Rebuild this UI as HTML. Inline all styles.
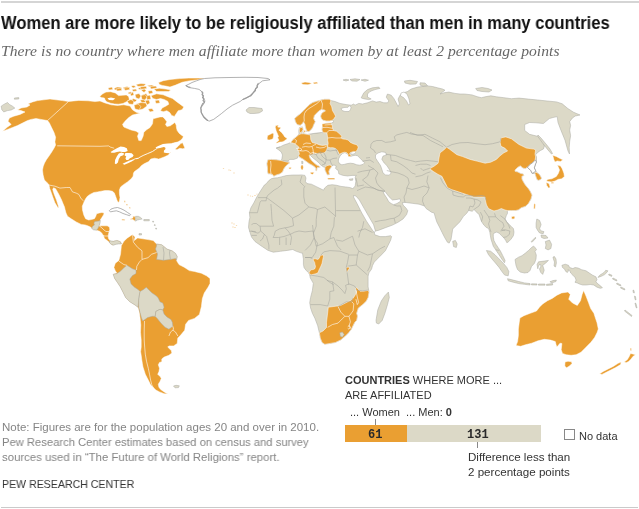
<!DOCTYPE html>
<html><head><meta charset="utf-8"><style>
html,body{margin:0;padding:0;background:#fff;}
body{width:639px;height:509px;position:relative;overflow:hidden;font-family:"Liberation Sans",sans-serif;}
.t{position:absolute;white-space:nowrap;line-height:1;will-change:transform;}
#topline{position:absolute;left:1px;top:1px;width:638px;height:2px;background:#d5d5d5;}
#botline{position:absolute;left:1px;top:507px;width:637px;height:1px;background:#cacaca;}
#title{left:1px;top:15px;font-size:17.5px;font-weight:bold;color:#111;letter-spacing:0px;transform:scaleX(0.946);transform-origin:0 0;}
#sub{left:0.5px;top:43px;font-family:"Liberation Serif",serif;font-style:italic;font-size:15.6px;color:#666;letter-spacing:0.05px;}
#map{position:absolute;left:0;top:0;}
.b{fill:#dcd9c7;stroke:#a9a9a1;stroke-width:0.5;stroke-linejoin:round;}
.o{fill:#ea9f32;stroke:#fff;stroke-width:0.5;stroke-linejoin:round;}
.on{fill:#ea9f32;stroke:none;}
.bn{fill:#dcd9c7;stroke:none;}
.n{fill:#fff;stroke:#929292;stroke-width:0.7;stroke-linejoin:round;}
.w{fill:#fff;stroke:none;}
.bl{fill:none;stroke:#fff;stroke-width:0.6;stroke-linejoin:round;}
.ow{fill:none;stroke:#fff;stroke-width:0.9;stroke-linejoin:round;}
.bw{fill:none;stroke:#fff;stroke-width:1.3;stroke-linejoin:round;}
.gl{fill:none;stroke:#a6a69e;stroke-width:0.55;stroke-linejoin:round;}
.gt{fill:none;stroke:#9a9a9a;stroke-width:1.1;stroke-linejoin:round;stroke-linecap:round;}
.od{fill:#ea9f32;opacity:0.45;stroke:none;}
.ws{fill:#fff;stroke:#a9a9a1;stroke-width:0.5;stroke-linejoin:round;}
.note{left:2px;font-size:11.5px;color:#858585;}
#pew{left:2px;top:479px;font-size:11.5px;color:#333;transform:scaleX(0.92);transform-origin:0 0;}
.lg{font-size:11px;color:#333;}
#bar{position:absolute;left:345px;top:425px;width:196px;height:17px;background:#dcd9c7;}
#bar .wv{position:absolute;left:0;top:0;width:62px;height:17px;background:#ea9f32;}
.bnum{position:absolute;top:3px;will-change:transform;font-family:'Liberation Mono',monospace;font-size:12px;font-weight:bold;color:#2a2a2a;}
.tick{position:absolute;width:1px;background:#888;}
#nd{position:absolute;left:564px;top:429px;width:9px;height:9px;border:1px solid #888;background:#fff;}
</style></head><body>
<div id="topline"></div>
<div class="t" id="title">Women are more likely to be religiously affiliated than men in many countries</div>
<div class="t" id="sub">There is no country where men affiliate more than women by at least 2 percentage points</div>
<svg id="map" width="639" height="509" viewBox="0 0 639 509">
<polygon class="o" points="2.5,131.2 7.5,127 11.2,124.4 8,121.2 9.4,118 13.8,116.2 20,114.4 25,112 21,110.6 17.5,110 21,108 27,107 30,105 28,103.8 32.5,101.9 37.5,100.6 43.8,99.8 50,99 56,99.8 62.5,100.6 68.5,101.5 78.8,100.4 88.2,100.8 95,101.6 100,101 105,102.9 111.2,104.8 117.5,105.4 123.8,104.8 130,106 132.5,109.8 136.2,112.2 140,113.2 137.5,113.8 132.5,115 128.8,117.5 125,121.2 122.5,124.4 123.8,126.9 126.2,128.1 131.2,130 136.2,131.2 138.8,133.1 137.5,136.2 138.8,140.6 141.2,140.6 143.1,136.2 143.8,132.5 146.2,130 150,127.5 152.5,123.8 153.1,118.8 156,118 160,116.9 162.8,116.9 164.8,118.9 166.9,121.7 165.5,124.4 166.9,126.5 170.3,125.8 173.1,123.8 174.8,122.4 176.2,125.1 176.5,127.9 177.2,130.6 179.3,133.4 182,135.4 183.4,136.8 182,138.9 180.6,140.3 178.6,141.6 177,142.2 172.3,143.2 172,148 170.5,152.5 169.4,153.5 168.5,154.9 164.7,156.8 161,158.2 158.6,159.1 156.5,158.5 154.4,158.2 150.7,159.1 148.8,161.5 144.1,163.8 141.3,165.7 139.4,168 136.6,170 134.5,171.5 133.5,173 133.1,176.2 131.2,178.8 127.5,181.9 123.8,184.4 120.6,186.9 119.4,190 119.4,193.8 120,197.5 119.4,201.2 118.1,202.5 116.9,200 115.6,196.2 114.4,193.1 112.5,191.2 108.8,190.6 105,190.6 101.2,191.2 97.5,191.9 93.8,192.5 90,194.4 87.5,196.2 85.6,198.8 83.8,202.5 82.3,206.2 82.5,210 83.8,215 85.6,218.8 88.6,220 91.3,219.6 94.4,218.7 95.7,216.5 96.6,213.8 99.2,213 101.9,212.5 104.1,213 103.6,214.7 101.9,217.4 100.5,219.6 100.1,220.9 99.7,222.7 99.2,225.8 102.8,225.8 107.2,225.8 109.4,227.1 109.8,229.3 108.9,232.4 108.1,235.9 108.5,238.6 109.8,240.4 111.6,241.3 115.1,240.8 117.8,240.4 120.4,241.7 122.2,243.9 120.4,243.9 117.8,243 115.1,244.3 112.5,245.2 110.7,243.9 108.9,242.1 107.2,240.4 104.5,238.6 103.6,235.9 101.9,233.3 100.1,231.5 97.5,230.6 94.8,229.8 92.1,228.4 90.4,227.1 87.7,225.8 85.1,224.9 81.2,224.4 76.2,221.9 71.2,218.8 67.5,216.2 66,213 65.2,210 64.5,207.1 63,203.5 61.5,199.8 58.6,193.9 55.6,188.7 53.5,187.8 52.7,189.5 54.1,193.9 56.4,199.8 58.3,205.7 58.8,207.8 57.8,207.6 54.9,202.7 52.7,196.8 51.2,192.4 49.7,188.5 49.4,186.9 48.8,184.4 46.9,182.5 44.4,180 43.1,175 42.5,170 43.2,166.5 44.5,163 46.5,159.5 49,156 51.7,152 54,148.2 55.6,145 54.9,141.9 55.6,137.2 54,132.5 51.7,127.8 49.4,123 47.5,120.6 41,119.4 36,118.5 31,119.4 27.5,120.6 22.5,123 17.5,125.6 12.5,127.5 7.5,129.4"/>
<polygon class="w" points="180.7,141.5 177,142.2 172.3,143.2 167.6,143.6 162.9,144.1 158.2,146 155.4,147.6 157.2,148.5 160,147.9 163.8,146.9 165.2,147.4 165.5,149 164,150.5 163.8,152.5 166,153 169.4,153.3 171,152 173.5,150.5 175,149.3 177.9,146.5 180.7,143.6"/>
<polygon class="o" points="175,149.3 177.9,146.5 180.7,143.6 182.6,142.7 184,146 184.9,148.3 182.6,148.8 179.8,148.3 177,149.7"/>
<polygon class="w" points="110.6,151.9 113.3,150.2 116.9,148.3 120.5,146.5 124.1,146.9 126.8,148.3 127.7,151.1 125.1,151.9 122.3,151.9 119.7,151.4 116.9,151.9 114.3,152.8 111.5,152.8"/>
<polygon class="w" points="118.8,153.5 121.4,152.6 124.2,153.5 123.3,155.3 120.5,156.2 118.8,158.9 117.9,162.5 116,164.3 114.8,163.4 115.1,159.9 116.9,156.2"/>
<polygon class="w" points="125.4,152.9 129.1,152.9 131.7,153.3 133.6,155.2 132.6,156.9 129.9,158.3 128.2,160.1 126.3,160.1 125.4,158.3 126.3,156.4 124.5,155.2"/>
<polygon class="w" points="122.6,163.8 126.2,162 129.7,160.6 133.4,159.3 135.1,158.8 134.2,160.1 131.6,161.5 128,163.3 124.3,164.7"/>
<polygon class="w" points="134,158.8 136.8,157.9 139.4,157.5 138.5,158.8 135.9,159.3"/>
<polyline class="ow" points="139.1,157.6 143.1,155.5 147.8,153.5 152.5,151.5 155.4,149.5 157.2,148.3"/>
<polygon class="o" points="99.7,96.4 102.8,93.7 106,92.1 110.6,91.7 115.3,92.9 118.5,95.6 122.4,95.3 126.3,94.9 128.6,96.4 129.4,99.6 127,101.5 123,103.5 118.5,104.2 114.6,104 110.6,103.2 106.7,101.8 105.2,100 104.4,98 101.3,97.6"/>
<polygon class="w" points="107.5,98.2 111,97.6 115.3,98.5 113,100.3 109,100"/>
<polygon class="o" points="114,88.5 117,87 121,87.3 122,89 118,90 115,90"/>
<polygon class="o" points="123,87.5 127,86.5 130,87.5 128,89.5 124,89.5"/>
<polygon class="o" points="131,86 134,85.5 136,87 133,88"/>
<polygon class="o" points="132,89.5 136,89 137,91 133,91.5"/>
<polygon class="o" points="130,93 133,92 134,95 131,96"/>
<polygon class="o" points="135,94.5 139,93.5 141,96 139,99 136,98"/>
<polygon class="o" points="133,98.5 137,100 135,102 131,101.5"/>
<polygon class="o" points="141,90 144,88.5 146,90.5 144,92.5"/>
<polygon class="o" points="142,95 146,93.5 148,96 146,99 143,98"/>
<polygon class="o" points="140,100 144,99.5 146,102 142,103"/>
<polygon class="o" points="136,84.5 141,83.5 146,84 144,86 138,86.5"/>
<polygon class="o" points="147,85.5 152,85 155,86.5 151,87.5"/>
<polygon class="o" points="138,88 142,87.5 145,88 143,89.5 139,89.5"/>
<polygon class="o" points="148,91 152,90.5 153,93 149,94"/>
<polygon class="o" points="146.5,96 150,95 151,99 147,100"/>
<polygon class="o" points="136,104 141,102.5 146,103 147,106 143,109 139,110 137,107.5"/>
<polygon class="o" points="148,109 152,108.5 154,111 150,112"/>
<polygon class="o" points="108,88 112,87 113,89.5 109,90"/>
<polygon class="o" points="153.8,89.1 159.4,88.2 166,89.1 170.7,90.1 168.8,91.5 163.2,91.5 156.6,91.5"/>
<polygon class="o" points="151,95.7 156.6,93.8 163.2,94.8 167.9,96.7 172.6,98.5 176.3,101.4 180.1,104.2 183.8,107 182,109.8 178.2,110.7 176.3,113.6 174.4,116.4 171.6,115.4 169.7,112.6 166.9,110.7 163.2,111.7 160.4,110.7 162.2,107.9 166,106 168.8,104.2 167.9,101.4 164.1,99.5 160.4,98.5 156.6,99.5 152.8,98.5"/>
<polygon class="o" points="158.5,82.6 163.2,80.7 170,79.5 179.4,78.6 188.8,78.1 198.2,78.1 204.7,78.4 202.9,79.3 196.3,80 188.8,80.9 182.2,82.3 175.6,85.1 170,87 166.9,86.3 162.2,85.4 159.4,84.5"/>
<polygon class="o" points="127,101 131,99.5 134,101.5 133,104.5 129,104"/>
<polygon class="o" points="134,105 138,104 141,106.5 139,110 135,109"/>
<polygon class="o" points="141,95.5 145,94.5 147,97 145,100 142,99.5"/>
<polygon class="o" points="145,100.5 149,100 150,103 147,105"/>
<polygon class="o" points="116,89 121,88 122,90.5 117,91"/>
<polygon class="o" points="124,88 129,87.5 130,89.5 125,90.5"/>
<polygon class="o" points="150,86.5 156,86 157,88 151,89"/>
<polygon class="o" points="140,86.8 146,86.3 147,88.5 141,89.3"/>
<polygon class="o" points="155,100.5 159,100 160,103 156,103.5"/>
<polygon class="o" points="128,92.5 131,91.8 131.5,93.5 128.5,94"/>
<polyline class="bl" points="68.5,101.5 47.5,120.6"/>
<polyline class="bl" points="57.2,145.8 100,146.3 108.6,145.9 110.2,147 114.1,148.2"/>
<polyline class="bl" points="48.8,185 55,186.2 60,188.1 66.2,187.5 70,187.5 72.5,191.9 76.2,193.1 78.8,194.4 81.2,198.8 83.5,200.8"/>
<polygon class="o" points="121.3,245.7 123.9,241.3 127.4,237.9 132.5,234.5 135.1,237 134.3,240.5 137.7,237.9 142.9,238.8 148,239.6 153.2,240.5 156.6,243.9 161.8,244.8 167,249.1 172.1,250.8 175.6,253.4 177.3,256.8 176.4,260.3 179,264.6 184.2,267.2 189.3,270.6 194.5,271.5 201.4,273.2 206.5,275.8 210,278.4 210,283.5 208.2,287 204.3,292.9 202.3,298.8 201.4,306.6 199.4,314.5 194.5,318.4 188.6,320.4 185.6,324.3 184.7,330.2 180.7,335.1 177.8,338 177.2,343.5 173.6,345.9 168.9,345.9 167.7,347.1 171.3,350.6 171.9,353 168.9,355.3 164.2,357.1 161.8,358.9 161.8,361.8 159.5,362.4 158.3,364.8 159.5,368.3 158.9,371.8 157.7,374.2 160.1,376.6 161.3,378.3 160.1,381.3 158.3,384.2 158.9,387.2 160.7,389.5 164.2,391.9 167.7,394 164.2,393.7 159.5,391.9 155.9,390.1 153,387.2 150.6,384.8 148.9,381.3 147.1,377.7 145.3,374.2 144.2,370.7 143,367.1 142.4,363.6 141.8,360 141.2,355.3 140.6,351.8 141.2,347.1 141.2,340 140.5,332.2 140.8,325 140.1,318.3 139.4,312.8 138,307.3 135.3,305.2 129.8,301.8 125.6,297.6 122.9,292.1 120.1,286.6 117.4,282.5 114.6,278.4 113.2,274.3 116.7,272.9 115.3,270.8 113.9,267.4 115.3,263.2 118.8,260.5 120.5,254.3 121.3,246.5"/>
<polygon class="b" points="113.2,274.3 116.7,273.6 120.1,271.5 124.2,267.4 127,265.3 132.5,268.8 136,270.1 136,273.6 132.5,275.6 129.8,279.1 131.1,283.9 134.6,287.3 138,289.4 140.1,291.5 139.4,294.9 138.7,300.4 138,307.3 135.3,305.2 129.8,301.8 125.6,297.6 122.9,292.1 120.1,286.6 117.4,282.5 114.6,278.4"/>
<polygon class="b" points="140.1,291.5 143.5,289.4 146.3,287.3 149,290.1 151.8,292.8 155.9,295.6 158,297.6 160,301.8 162.8,303.1 164.1,307.3 162.8,310 160,309.3 155.9,311.4 155.2,316.4 152.5,316.2 147.6,317.6 144.9,319.6 142.8,321 141.5,318 140.1,312.8 138.7,307.3 138.7,300.4 139.4,294.9"/>
<polygon class="b" points="155.9,311.4 160,309.3 162.8,310 164.1,314.1 166.9,316.9 171,319.6 172.4,322.4 172.9,326.3 168.9,329.2 165,327.2 161.1,323.3 157.2,318.4 155.2,316.4"/>
<polygon class="b" points="156.6,243.9 161.8,244.8 167,249.1 172.1,250.8 175.6,253.4 177.3,256.8 176.4,260.3 175.6,258.6 170.4,259.4 163.5,260.3 156.6,259.4 157.5,254 155.5,249 156.5,246"/>
<polygon class="b" points="94.8,221.4 99.2,220.9 100.3,220.5 100.1,222.7 99.2,225.8 97.9,228.4 96.6,230.2 93.5,229.8 91.7,228.4 92.6,226.2 94.4,224.9 93.9,223.1"/>
<polygon class="b" points="109.8,240.8 113.4,241.3 116.9,240.4 120.4,241.7 121.3,243.9 118.7,243.9 116,244.3 113.4,245.2 111.2,244.3 109.4,242.6"/>
<polyline class="bl" points="99.2,225.8 102,228 104,230 106,231.5 109,231.5"/>
<polyline class="bl" points="102.5,235.5 105,236 108,236"/>
<polygon class="n" points="109.3,210.8 111,209.1 114.2,208 117.5,207.5 120.8,208.6 124.1,210.2 127.4,212.4 130.7,214.6 129.6,215.7 126.3,214.6 123,213.5 119.7,211.9 116.4,210.8 113.1,211.3 110.4,211.9"/>
<polygon class="o" points="130.1,219 132.9,217.9 132.9,216.3 135,216.3 135.6,219 135,221.2 132.9,219.5 130.7,219.5"/>
<polygon class="b" points="135.6,216.3 138.3,216.3 140.5,217.4 142.2,219 139.4,219.5 137.2,220.1 135.6,221.2"/>
<polygon class="b" points="143.8,219.5 149.3,219.5 149.3,220.8 143.8,220.8"/>
<polygon class="o" points="121.9,219 125.2,219.5 124.6,220.6 121.9,220.3"/>
<polygon class="o" points="124,201 125,200.5 125.5,202 124.5,202.5"/>
<polygon class="o" points="126,204 127.5,204 127.8,205.3 126.3,205.3"/>
<polygon class="o" points="129,207 130.5,207.5 130.3,208.6 129,208.2"/>
<polygon class="b" points="295.5,121.7 294.7,118.6 297.1,116.2 300.2,113.9 303.4,110.7 306.5,107.6 309.7,104.4 312.8,102.5 316.7,101.3 320.7,100.1 324.6,99.3 329.3,99.3 330.9,100.5 335,101.5 340,103.4 346.2,104.6 351.2,105.2 353.8,104 355,105.2 358.8,103.4 362.5,104 367.5,102.8 372.5,100.9 376.2,102.1 380,101.5 383.8,102.8 387.5,102.8 388.8,100.9 386.2,97.1 387.5,94 391.2,95.2 393.8,98.4 396.2,102.8 398.1,106.5 399.4,104 398.1,99 400,95.2 403.8,92.8 407.5,91.5 411.2,89 417.5,87.1 422.5,86.5 427.5,85.9 432.5,86.5 437.5,87.8 442.5,89 445,90.2 442.5,92.1 440,94 443.8,92.8 448.8,92.1 455,93.4 460,94 464.5,94 472,94.9 477.6,96.8 481.4,97.7 485.1,96.8 490.8,95.8 496.4,96.8 503.9,97.7 511.4,98.7 519,98.1 528.4,99.1 537.8,100 547.2,101 556.6,101.9 562.2,103.8 567.8,108.5 573.5,112.2 580,115 575.3,116 572.5,117.9 569.7,121.6 570.6,125.4 569.7,130.1 570.6,135.7 569.7,141.3 569.2,147.5 569.5,154 568,151 565,140.2 561,130.4 558,122.5 557.2,116.6 553,117.5 549.3,118.6 543.4,123.5 536,122.8 529.6,122.5 524.7,124.5 524.7,130.4 529.6,134.3 537.5,136.3 541,139 543.4,142.2 544.4,146 543.5,148.9 540.5,150.5 537.6,152.5 535.6,154.8 536.5,157 536.5,162 535.6,163.8 534.3,167.9 535.6,170.6 537,172.7 539.1,174.1 540.5,176.2 541.5,178.2 540.5,179.6 538.4,180.3 537,179.6 536.3,177.5 535.6,175.5 535,173.4 532.2,173.4 530.8,170.6 528.1,167.9 527.4,167.2 525.3,168.6 522.6,167.9 520.5,165.8 517.8,167.2 515,170 515,171.3 517.8,172 520.5,173.4 523.3,174.1 523.9,175.5 521.9,176.2 521.9,178.9 523.3,181.7 525.3,185 528.3,188.5 530.2,191.3 532,195.1 531,199 528.4,203.5 525.6,206.3 521.3,207.7 518.5,209.8 515.7,210.5 511.5,210.5 507.3,210.5 507.5,213.3 506.3,215.6 505.1,219.2 506.3,221.5 508.7,223.9 511,226.2 513.4,228.6 514,232.1 513.4,235.7 511,239.2 508.7,241.6 506.9,242.8 505.7,240.4 504,238 501.6,235.7 499.2,233.3 496.9,232.1 494.5,232.7 493.3,234.5 493.3,236.9 493.9,240.4 495.7,243.9 498.1,247.5 500.4,251 502.8,255.7 505.1,260.5 504.5,262.8 502.8,260.5 500.4,256.9 498.1,253.4 495.7,249.8 493.3,246.3 492.2,242.8 491,239.2 490.4,235.7 489.8,232.1 488.6,228.6 486.3,227.4 483.9,225.1 481.5,221.5 480.5,218.9 479.1,214.7 476.3,211.9 474,209.5 472.2,211.3 468.6,210.4 466.9,213 463.3,216.6 459.8,221.9 456.3,225.4 452.7,229 451.9,234.3 451,239.6 449.2,243.1 447.4,242.2 444.8,237.8 442.1,232.5 439.5,227.2 436.8,221.9 435.1,216.6 434.2,213 431.5,212.2 428.9,210.4 426.2,208.6 424.4,206 419.1,204.2 412.1,203.3 405,202.4 402.5,202.5 403,205 406,208.1 407.8,210.7 406.6,214.5 403.1,218.9 397.8,222.4 392.5,225.1 385.4,227.7 378.3,230.4 373.9,231.3 374.8,234.8 380.1,236.6 385.4,236.6 390.7,235.7 391.6,236.6 390.7,240.1 388.1,245.4 385.4,250.7 381.3,255 377.8,258.5 374.3,262.1 372.5,265.6 371.6,269.1 369,272.7 368.1,276.2 368.1,281.5 368.1,286.8 369,292.1 368.1,297.4 366.3,301 362.8,304.5 358.3,308 356.6,313.3 357.5,316 356.6,320.4 354.8,322.2 353,325.7 351.3,329.3 348.6,332.8 345.1,336.3 340.7,339.9 335.4,342.5 330.1,343.4 324.8,344.3 322.1,342.5 320.3,338.1 319.4,332.8 317.7,325.7 315,318.6 312.4,313.3 310.6,308 309.7,302.7 310.6,297.4 312.4,290.4 313.3,283.3 310.3,278 309.6,274.6 308.3,272.5 306.2,270.4 304.1,267.7 303.4,264.3 303.4,258.8 302.8,255.3 302.5,253 301.6,253.1 296.3,251.3 292.7,249.5 287.4,250.4 280.4,251.3 273.3,252.2 268,250.4 262.7,246.9 258.5,244 255,241.5 251.5,237 250,232.5 248.5,227.4 249,221.5 249.9,217.6 249.4,212.7 250.9,207.8 253.8,202.9 256.8,197 260.9,190.3 264.4,185 266.2,183.8 268.8,180.6 271.2,178.8 273.8,178.1 277.5,177.8 281.2,176.9 286.2,175.6 292.5,175 298.8,175 301.6,174.9 304.9,175.4 306,178.1 305.4,181.4 307,183.6 311.4,184.2 316.9,186.9 321.3,189.1 323.5,190.2 324.6,188 327.9,185.3 332.2,184.7 336.6,185.3 341,186.4 345.4,186.9 349.8,187.5 352.5,188.5 354.1,187.5 355.2,185.8 355.8,181.4 355.2,177 356.3,175.4 352,175.4 347.6,176 343.2,175.4 340.5,174.6 338.8,173.8 338.3,170.5 337.1,169.9 335.5,168.3 336.3,166 334,165 332.5,165.5 331.9,166.2 330,168.8 328.8,171.2 329.4,174.4 327.5,175 326.2,172.5 325,170 325,167.5 323.3,166.8 321,165.2 318.6,162.8 316.2,160.4 313.1,158.1 310.7,155.7 309.9,154.5 309.2,155.7 309.9,158.1 311.5,160.4 313.9,162.8 316.3,164.8 318.6,165.9 320.2,167.1 318.6,167.5 317.6,167.2 317,168.5 316.6,170.7 315.8,170.3 316,168.5 314.7,166.8 312.3,165.2 309.2,163.6 306,161.2 302.9,158.9 299.7,157.3 298.5,155.5 297.5,158.1 293.8,159.4 290,159.4 287.5,161.2 290,162.5 287.5,164.4 285.6,166.2 283.8,168.8 282.5,171.9 280,173.8 276.2,175 273.8,176.2 272.5,174.4 270,173.8 268.1,173.8 267.5,171.2 267.5,167.5 266.9,163.8 267.5,161.2 267.5,160 271.2,159.4 276.2,159.8 281.2,160.6 281.9,158.8 282.5,155 281.2,151.9 278.8,150 276.2,148.1 280,146.9 283.8,145 287.5,143.8 290.6,142.5 293.8,138.8 296.2,136.9 299,134 298.8,130.6 299.4,127.5 302.5,126.9 303.1,130 301.9,132.5 301.2,133.8 303.8,133.8 307.5,134.4 311.2,133.8 316.2,133.1 321.2,132.5 323,130 323,126 326,123.5 329,122.5 332,121.5 330,120.5 325,120 320,118.8 315.2,121.7 313.6,124.9 312.8,127.2 311.2,129.6 308.9,131.6 306.9,131.2 305.7,128 304.9,124.1 303.4,121.7 302.6,123.3 300.2,125.3 297.1,124.5"/>
<polygon class="ws" points="315.2,121.7 313.6,118.6 314.4,115.4 316.7,113.1 319.1,110.7 321.4,109.5 324.6,109.9 325.4,111.1 323,112.3 321.4,113.9 320.7,116.2 321.4,118.6 323,120.2 326.2,120.9 329.3,120.9 332.5,120.2 334,121.5 331.7,123 328,123.3 324.6,123.5 322.4,127.4 322,130 323.3,132.7 321.2,132.5 316.2,133.1 311.2,133.8 307.5,134.4 303.8,133.8 303,132.5 306.9,131.2 308.9,131.6 311.2,129.6 312.8,127.2 313.6,124.9"/>
<polygon class="ws" points="350,105.3 351,107.5 350.5,109.5 349,111.5 345,111.5 342,110.5 341,108.5 344,107.5 348,107.3 349.2,106"/>
<polygon class="ws" points="401,93 404,92 407,94 409,99 410,104 408.5,105 406.5,101 403.5,97.5 400.5,96"/>
<polygon class="ws" points="338.6,158.9 340.2,155.7 342.6,153.4 344.9,152.6 347.3,153.8 348.9,155.7 350.4,156.5 352.8,155.7 355.2,155.3 357.5,155.7 359.9,158.1 362.2,160.4 364.6,162.8 363,164.4 359.9,165.2 356.7,164.8 353.6,163.6 350.4,163.2 347.3,163.6 344.2,164.4 341.8,164.8 339.4,163.6 338.3,161.2"/>
<polygon class="ws" points="350.4,152.6 353.6,151.4 355.9,151.4 355.2,153.4 352.8,154.2 351.2,154.2"/>
<polygon class="ws" points="375.5,154.9 378,153 381.8,151.8 385.5,152.4 386.8,154.9 383,156.1 381.8,159.2 384.2,163 386.8,165.5 389.2,169.2 391.1,173 389.2,175.2 385.5,174.9 383,173 381.8,169.2 380.5,165.5 378,161.8 375.5,158"/>
<polygon class="ws" points="353.5,195.5 355.9,196 359.4,200 364.1,208.3 368.8,216.5 373.6,224.7 375.3,230.6 374.5,232.5 373.6,231.8 371.2,228.3 366.5,221.2 361.8,213 357,203.5 353.5,197"/>
<polygon class="ws" points="383,191.2 385.3,191.8 388.8,196.5 392.4,200 397,199.4 400,198.8 400.6,201.2 397,203.5 393.6,204.7 391.2,203.5 388.8,201.8 386.5,197.6 384.1,194.1"/>
<polygon class="o" points="294.7,118.6 297.1,116.2 300.2,113.9 303.4,110.7 306.5,107.6 309.7,104.4 312.8,102.5 316.7,101.3 320.7,100.1 324.6,99.3 329.3,99.3 330.9,100.5 330.1,103.6 331.7,106.8 332.5,110.7 334,113.1 335.6,116.2 334,118.6 332.5,120.2 329.3,120.9 326.2,120.9 323,120.2 321.4,118.6 320.7,116.2 321.4,113.9 323,112.3 325.4,111.1 324.6,109.9 321.4,109.5 319.1,110.7 316.7,113.1 314.4,115.4 313.6,118.6 315.2,121.7 313.6,124.9 312.8,127.2 311.2,129.6 308.9,131.6 306.9,131.2 305.7,128 304.9,124.1 303.4,121.7 302.6,123.3 300.2,125.3 297.1,124.5 295.5,121.7"/>
<polygon class="o" points="299.4,128 302.6,127.2 303,129.6 301.8,132 300.2,132.7 299.4,131.2"/>
<polygon class="o" points="303.5,130.5 305.3,130.3 305.5,132 303.8,132.3"/>
<polygon class="o" points="290,142.5 290.6,142.5 293.8,138.8 296.2,136.9 299,134.5 301.2,133.8 303.8,133.8 307.5,134.4 310.4,135 310.8,139.7 312.2,142.5 316,143.5 319.7,144.9 322.6,145.4 326.3,144.9 327.7,145.9 327.3,147.9 326.5,150.2 324.9,152.6 321,153.8 316.2,153.4 313.1,154.1 310.7,155.2 309.9,154.5 309.2,155.7 309.9,158.1 311.5,160.4 313.9,162.8 316.3,164.8 318.6,165.9 320.2,167.1 318.6,167.5 317.6,167.2 317,168.5 316.6,170.7 315.8,170.3 316,168.5 314.7,166.8 312.3,165.2 309.2,163.6 306,161.2 302.9,158.9 299.7,157.3 298.5,155.5 299.4,154 298.8,151.5 297.5,150 298.8,146.9 295,143.8 292,142.8"/>
<polygon class="o" points="310,172.6 312,172.2 314.3,172.4 313.2,173.8 312.3,174.6 310.6,173.6"/>
<polygon class="o" points="301,165.3 303,165 303.3,167.5 302.8,169.9 301.2,169.6 300.8,167.5"/>
<polygon class="o" points="322,124 325.1,123.4 330.4,123 332.1,124.7 332.6,128.3 333.5,130.5 336.6,131.3 339.2,133.6 341.9,136.2 341,138 342.7,138.9 345.4,139.3 348.1,140 350.4,142.4 353.6,143.9 356.7,144.7 358.3,147.1 357.5,149.4 355.9,151.8 353.6,151.4 350.4,152.6 349.5,154 350.4,154.9 351.2,155.7 348.9,156.9 348.1,155.7 348.1,154.2 346.5,152.6 344.2,152.2 341.8,153 339.4,154.2 338.3,152.1 337.4,150.3 335.7,148.6 333,147.7 330.4,147.7 327.7,147.2 327.7,145.9 328.2,143.3 327.7,140.6 327.7,138 327.3,135.3 326.8,132.7 323.3,132.7 322,130 322.4,127.4"/>
<polygon class="o" points="267.5,160 271.2,159.4 276.2,159.8 281.2,160.6 286.2,161.9 290,162.5 287.5,164.4 285.6,166.2 283.8,168.8 282.5,171.9 280,173.8 276.2,175 273.8,176.2 272.5,174.4 270,173.8 268.1,173.8 267.5,171.2 267.5,167.5 266.9,163.8 267.5,161.2"/>
<polygon class="o" points="288.8,167.5 291.2,167.3 291,168.9 289,168.9"/>
<polygon class="o" points="325,167.5 326.9,165.6 330,165 331.9,166.2 330,168.8 328.8,171.2 329.4,174.4 327.5,175 326.2,172.5 325,170"/>
<polygon class="o" points="327.5,178 335,178 334.5,179.4 328,179.4"/>
<polygon class="o" points="275.8,125.6 277.6,125.2 278.5,125.8 277.6,127 278.9,127.2 280.7,127.2 280.3,128.8 278.9,129.9 279.8,131 281.6,132.4 283,134.2 283.9,135.6 284.8,136.9 287.1,138.3 286.6,139.2 285.3,140.1 284.4,141 282.1,141.9 279.8,142.1 278,142.8 276.7,143.3 276.2,142.6 277.6,141.5 278.9,140.6 278.5,139.2 277.6,137.8 278.5,136.5 278,135.1 277.6,134.2 277.1,132.9 276.2,131 275.8,129.2 275.3,127.4 275.5,126.3"/>
<polygon class="o" points="267.6,135.6 269.4,134.7 271.2,133.8 273,132.9 273.7,134 273.5,136.5 273,138.7 271.2,139.6 269,140.1 267.2,139.6 267.2,137.8"/>
<polygon class="o" points="301,83 305,82 309,82.5 312,83.5 308,84.8 303,84.5"/>
<polygon class="o" points="313,82.5 317,82 318,83.5 314,84"/>
<polygon class="b" points="246,110 249,107.5 254,107.5 258,108 262,108.5 262.5,111 259,113 254,113.5 250,113.5 247,112"/>
<polygon class="b" points="361.2,97.8 363.8,92.8 367.5,89.6 372.5,87.8 378.8,87.1 380,88.4 375,89.6 370,91.5 367.5,94 367.5,97.1 371.2,99 368.8,99.6 365,99 362.5,98.4"/>
<polygon class="b" points="343,80 346,79.3 349,80 346,81"/>
<polygon class="b" points="350,79.5 355,78.8 360,79.5 357,81.2 352,81"/>
<polygon class="b" points="361,80 365,79.3 368.5,80.2 365,81.3"/>
<polygon class="b" points="404.4,81 410,80.3 417.5,81.5 416,84 410,84.2 405,83"/>
<polygon class="b" points="420,82.8 425,83 427.5,85.5 423,86.3 420,85"/>
<polygon class="b" points="475.7,88.5 482,87.5 488,88.5 492,90 489,92 482,91.5 477,90.5"/>
<polygon class="b" points="538,135 541,138 546,144 550,149 552.5,153.5 551.5,154 548,150 544,145 540,139.5 537.5,136"/>
<polygon class="b" points="452.7,241.3 455.4,240.4 457.2,244 456.3,247.5 453.6,246.6"/>
<polygon class="b" points="376,320.4 377.8,309.8 381.3,301 384.9,295.7 388.4,292.1 389.3,297.4 387.5,304.5 384.9,313.3 382.2,320.4 378.7,324 376.4,323.1"/>
<polygon class="b" points="349.2,179.2 353,178.7 352.5,180.3 349.8,180.3"/>
<polygon class="b" points="301.7,161.2 302.9,161.4 302.9,163.6 301.8,163.8"/>
<polygon class="b" points="486.4,250.5 490.6,251.2 494.9,254.7 499.1,258.9 503.3,263.2 506.8,267.4 508.9,271.6 508.2,275.8 504.7,275.1 501.9,271.6 499.1,267.4 495.6,263.2 492,259 488.5,254.7"/>
<polygon class="b" points="507.5,278.7 513.2,280.1 518.8,281.5 524.4,282.9 530.1,283.6 530.1,285 524.4,284.3 518.8,283.6 513.2,282.2 508.2,280.8"/>
<polygon class="b" points="531.5,283.8 537,283.9 537,285 531.5,284.9"/>
<polygon class="b" points="538.5,284 545,284 545,285.2 538.5,285.2"/>
<polygon class="b" points="546.5,284.3 552.6,283.6 552.6,285 546.5,285.4"/>
<polygon class="b" points="515,259.5 518.5,257.2 522,255.7 525.5,253 528.5,250.5 531,248 533.5,246 535,247.5 536.5,249.5 535,251.5 536.3,255 536,259 534.5,263.2 531.5,266.5 530,270.5 528,272.5 524.4,273 520.2,272 517.5,269.5 516,265.5"/>
<polygon class="b" points="538.5,261.8 544.2,261.1 548.4,260.4 545.6,263.2 542.7,265.3 544.2,270.2 542.7,274.4 540.6,272.3 539.5,269 541,266 540,264 538.5,266 537.8,268.8 537.1,264.6"/>
<polygon class="b" points="536.8,219 539.6,220.4 541.1,224.6 539.6,228.8 541.1,230.9 543.9,231.6 543.2,233.7 539.6,233 537.5,230.2 536.1,227.4 536.1,223.2"/>
<polygon class="b" points="545.3,241.5 549.5,240.1 551.6,244.3 550.9,248.5 548.1,249.9 545.3,248.5 546,245"/>
<polygon class="b" points="541,235 546,235.5 548,238 544,238.5 541.5,237.5"/>
<polygon class="b" points="531.2,241.5 535.4,237.3 536,238 532,242.3"/>
<polygon class="b" points="561.9,265.3 565.2,264.2 568.5,265.3 569.6,267.5 572.9,268.6 575,267.5 578.3,268.1 581.6,269.7 586,270.8 589.3,273 592.6,275.2 595.9,276.8 597,279.6 595.9,281.8 598,284 600.8,286.1 602.4,287.8 600.2,288.3 597,287.2 593.7,285 590.4,284.5 586,285 582.7,285 579.4,284 577.2,282.9 575,282.3 576.1,280.1 575,277.4 572.9,275.2 570.7,273 569.6,270.3 567.9,269.8 568.5,270.8 567.4,272.5 565.7,271.4 564.6,269.2 562.5,267.5"/>
<polygon class="b" points="598,277.4 601.3,276.3 604.6,274.6 606.8,272.5 607.9,270.8 605.7,270.3 604.6,271.9 602.4,273.5 599.7,275.2"/>
<polygon class="b" points="553,257 554.5,256.6 556,259 556.4,263 555.5,267 554,266 554.5,262 553.5,259.5"/>
<polygon class="b" points="549.9,281.8 553,280.6 556.4,280.1 555.8,281.6 552,282.8"/>
<polygon class="o" points="429.7,168.8 434.4,166 438.1,163.2 439.1,157.5 440,152.8 443.8,150 446.6,147.2 449.4,149.1 453.2,151.9 456.9,154.7 462.6,156.6 470.1,159.4 477.6,161.3 485.1,163.2 490.7,162.2 496.4,159.4 500.1,155.7 503.9,152.8 507.6,151 504.8,148.1 501,146.3 500.1,142.5 501,137.8 505.8,136.9 511.4,138.8 518.9,144.4 526.4,148.1 533.9,149.1 535.6,150 535,154.1 535.6,156.9 535,160.3 532.9,162.4 530.1,164.5 527.4,167.2 525.3,168.6 522.6,167.9 520.5,165.8 517.8,167.2 515,170 515,171.3 517.8,172 520.5,173.4 523.3,174.1 523.9,175.5 521.9,176.2 521.9,178.9 523.3,181.7 525.3,185 528.3,188.5 530.2,191.3 532,195.1 531,199 528.4,203.5 525.6,206.3 521.3,207.7 518.5,209.8 515.7,210.5 511.5,210.5 507.3,210.5 505,210 501.3,208.5 498,210 494,211 491.5,210 488.5,208.5 486.5,205 485.5,201 485,197 479.5,197 473.8,197 468.2,195.1 462.6,193.2 456.9,191.3 451.3,189.5 447.5,187.6 445.7,183.8 443.8,180.1 441.9,176.3 438.1,174.4 433.5,171.6"/>
<polygon class="o" points="511.5,216.8 514.3,216.1 515,218.2 512.9,219.2 511.5,218.2"/>
<polygon class="o" points="534,203.5 535.4,204.2 535.1,209.1 533.7,208.4"/>
<polygon class="n" points="527.4,167.2 530.1,164.5 532.9,162.4 535,160.3 535.6,160.3 536.5,162 535.6,163.8 534.3,167.9 535.6,170.6 535,172 532.2,173.4 530.8,170.6 528.1,167.9"/>
<polygon class="o" points="535,172 537,172.7 539.1,174.1 540.5,176.2 541.5,178.2 540.5,179.6 538.4,180.3 537,179.6 536.3,177.5 535.6,175.5 535,173.4"/>
<polygon class="o" points="552.7,155.3 556.2,156.4 559.5,158.2 562.9,159.8 560.6,161.5 557.2,160.9 555,162.1 553.9,159.8"/>
<polygon class="o" points="557.3,165 560.6,166.1 562.3,168.9 563.9,173.3 564.4,176.5 561.7,178.8 558.4,179.3 555.1,181 551.8,182 548.5,181.6 546.3,181 548,179.3 551.8,178.8 556.3,176.5 558.4,173.3 559.5,169.9 558.4,167.2"/>
<polygon class="o" points="546.1,182.4 549,183.6 550.2,187.5 548.4,188.1 546.7,185.3"/>
<polygon class="o" points="551.1,182.2 554,182.2 553.4,183.4 551.1,183.6"/>
<polygon class="o" points="320.4,255.5 322.1,255 323.7,255.5 323.2,257.7 322.6,260.5 322.1,263.2 321,266 319.9,268.2 318.8,270.4 318.2,272.6 316,273.7 313.8,274.2 311.6,274.8 310,274.2 308.9,273.1 310,270.9 311.1,269.8 313.3,269.5 314.9,268.7 315.5,266.5 314.9,264.3 314.6,262.4 313.3,260.2 313.3,258.8 315.5,258.8 317.7,259.4 318.8,258.8 319.6,257.2"/>
<polygon class="o" points="319.4,332.8 323,331 326.5,327.5 326.5,322.2 327.4,315.1 328.3,307.2 335.4,306.3 340.7,305.4 346,302.7 351.3,300.1 353,298.3 354.8,295.7 356.6,292.1 355.7,288.6 356.6,287.7 360.1,291.2 363.6,291.2 368.1,290.4 369,292.1 368.1,297.4 366.3,301 362.8,304.5 358.3,308 356.6,313.3 357.5,316 356.6,320.4 354.8,322.2 353,325.7 351.3,329.3 348.6,332.8 345.1,336.3 340.7,339.9 335.4,342.5 330.1,343.4 324.8,344.3 322.1,342.5 320.3,338.1"/>
<polygon class="b" points="339.8,332.8 342.4,331.9 344.2,334.6 342.4,337.2 340.3,336.3"/>
<polygon class="o" points="346.2,267.5 348.8,266.9 349.4,268.8 348.1,270 346.9,272.5 346.2,270"/>
<polygon class="o" points="519.9,318 523.9,315.7 530.2,313.3 536.5,311 539.6,307 542.7,303.9 547.5,300.7 552.2,298.4 556.9,295.2 561.6,292.9 567.9,292.1 570.3,294.4 568.7,299.2 572.6,303.1 577.3,305.4 580.5,300.7 582.1,294.4 583.6,290.5 586,296 588.4,302.3 590.7,308.6 593.9,313.3 595.4,318 597,322.7 598.3,329 597.1,332.4 594.6,337.4 590.9,342.3 586,347.2 581,352.2 576.1,354.7 571.1,355.3 566.2,354.7 562.5,353.4 561.2,349.7 561.9,343.5 560,343.2 556.9,347.1 556.1,344.8 555.3,341.6 550.6,340.1 544.3,339.3 538,340.8 531.7,343.2 525.4,344.8 520.7,346.3 516,345.6 517.6,341.6 518.4,335.3 518.4,329 519.2,322.7"/>
<polygon class="o" points="565,362 568,361.2 571.5,361.8 572,363.5 569.5,366 566.5,367.8 564.8,366"/>
<polygon class="o" points="599.6,373.8 603.3,371.4 608.2,368.9 613.2,366.4 618.1,363.3 621.2,362.1 620.6,364.6 615.6,367.6 610.7,370.1 605.7,372.6 602,374.4"/>
<polygon class="o" points="624.3,362.1 627.4,359.6 629.2,356.5 630.5,353.4 632.9,354 635.4,354.7 632.9,356.5 631.1,359 628.6,361.5 626.1,362.7"/>
<polygon class="o" points="630,348 631.3,348.3 631.5,350.5 630.5,351"/>
<polygon class="n" points="186,85.6 188.8,84.2 192,82.5 196.3,80.9 200,79.5 204.7,78.5 215,77.8 230,77.5 245,77.3 258,77.5 268,78.5 270,79.8 262.6,80.8 258.9,83.6 255.1,89.3 251.4,95.8 243.8,98.7 240.1,101.5 232.6,105.2 227,109 221.3,113.7 213.8,119.3 209.1,121.2 204.4,118.4 201.6,113.7 200.7,108 203.5,104.3 205,101 203.5,98 202.9,95.5 201.9,91.7 199.1,89.4 194.4,88.4 188.8,87.5"/>
<polygon class="b" points="1.2,106.2 3.8,104.4 7.5,102.5 9.4,104.4 12.5,106.2 14.8,108.1 11.2,110 7.5,110.6 3.8,111.9 1.9,110"/>
<polygon class="b" points="14.4,98 18.8,97.6 18.8,99 14.4,99.2"/>
<polyline class="gl" points="281.2,179.5 281.9,184.5 277.5,188.2 274.2,190 267.7,195.4 266.6,197.6"/>
<polyline class="gl" points="258,197.6 266.6,197.6"/>
<polyline class="gl" points="249.3,212.7 257.4,212.7 260.1,201.9 261.2,200.8 266.1,200.8 266.6,197.6"/>
<polyline class="gl" points="266.6,197.6 275.3,204 283.9,210.5 292.5,218.1"/>
<polyline class="gl" points="270.9,204 271.5,211.6 272,220.3 273.6,226.2 260.1,226.2 259,225.7 256.3,223.5 253.6,223.5 251.5,224.6"/>
<polyline class="gl" points="292.5,218.1 299,214.9 308.8,207"/>
<polyline class="gl" points="308.8,207 305,203.2 303.8,197 303.8,188.2 305,185.8"/>
<polyline class="gl" points="303.8,185.8 300,182 301.9,175.8"/>
<polyline class="gl" points="308.8,207 315,208.2 317.5,209.5 324.9,207 335.6,216.2"/>
<polyline class="gl" points="292.5,218.1 293.6,225.7 288.2,227.3 285,227.8"/>
<polyline class="gl" points="317.5,209.5 316.2,219.5 316.2,226.2 313.8,232.5"/>
<polyline class="gl" points="335,187.5 335.6,216.2"/>
<polyline class="gl" points="336.2,210.6 360,210.6"/>
<polyline class="gl" points="335.6,216.2 334.4,217.5 333.8,226.2 331.2,232.5 330,238.8"/>
<polyline class="gl" points="363.8,221.2 362.5,227.5 360,232.5 358.8,237.5"/>
<polyline class="gl" points="285,227.8 279.6,228.9 275.3,231.1 274.2,235.4 273.1,237.5"/>
<polyline class="gl" points="260.1,226.2 260.7,231.1 264.4,234.3 266.6,236.5 267.7,240.8"/>
<polyline class="gl" points="251.5,231.1 258,233.2 260.7,231.1"/>
<polyline class="gl" points="249.3,231.1 255.8,231.6"/>
<polyline class="gl" points="251.5,235.4 256.9,235.4"/>
<polyline class="gl" points="273.1,237.5 278.5,237.5 283.9,236.5 287.1,235.4"/>
<polyline class="gl" points="285,227.8 288.2,231.1 290.4,234.3"/>
<polyline class="gl" points="287.1,235.4 290.4,234.3 291.5,237.5 290.4,245"/>
<polyline class="gl" points="286.1,237.5 286.1,245"/>
<polyline class="gl" points="279.6,237.5 279.6,245"/>
<polyline class="gl" points="290.4,234.3 294.7,232.1 299,231 305.1,231.9 313.1,231"/>
<polyline class="gl" points="267.7,240.8 268.9,245 268.9,249.5"/>
<polyline class="gl" points="264.4,234.3 262.5,239 260,241"/>
<polyline class="gl" points="313.1,231 314,238 310.4,245.1 305.1,250.4"/>
<polyline class="gl" points="314,238 317.5,243.3 315.7,252.2 312.2,257.5"/>
<polyline class="gl" points="305.1,257.5 312.2,257.5"/>
<polyline class="gl" points="312.5,225 313.8,235 316.2,246.2"/>
<polyline class="gl" points="316.2,246.2 322.5,243.8 330,238.8 333.8,237.5"/>
<polyline class="gl" points="323.8,251.9 330,250.6 340,251.2 348.8,254.4"/>
<polyline class="gl" points="333.8,237.5 337.5,246.2 341.2,250"/>
<polyline class="gl" points="336.2,240 342.5,241.2 352.5,236.2 355,245"/>
<polyline class="gl" points="355,245 358.8,251.2 357.5,255"/>
<polyline class="gl" points="348.8,255 357.5,255 356.2,265 347.5,266.2"/>
<polyline class="gl" points="348.8,255 347.5,262.5 346.2,267.5 347.5,275 348.8,284.9"/>
<polyline class="gl" points="356.2,265 367.5,275"/>
<polyline class="gl" points="358.8,251.2 367.5,255 372.5,253.8"/>
<polyline class="gl" points="372.5,253.8 370,266.2 367.5,271.2"/>
<polyline class="gl" points="372.5,253.8 380,248.8 385,246.2"/>
<polyline class="gl" points="357.5,231.2 365,228.8 372.5,232.5"/>
<polyline class="gl" points="305,257.5 310,257.5 312.5,258.8"/>
<polyline class="gl" points="310,275 317.5,276.2 323.8,277.5 330,282.5 333.8,284.9"/>
<polyline class="gl" points="323.8,251.9 320.6,255.6"/>
<polyline class="gl" points="310.5,304.6 320.1,304.6 327.7,306"/>
<polyline class="gl" points="327.7,306 329.8,299.1 329.8,291.5 333.9,290.8 332.5,281.9 327,280.5"/>
<polyline class="gl" points="332.5,281.9 338,286 342.1,290.1 344.9,293.6 346.3,288.8 345.6,285.3 349,283.9 354.5,286 355.9,288.1"/>
<polyline class="gl" points="338,306.6 346.3,301.8 351.8,301.8 352.5,298.4"/>
<polyline class="gl" points="355.9,290.1 362.8,290.8 368.3,290.1"/>
<polyline class="gl" points="406.8,187.9 406,193 404,197 405,202.4"/>
<polyline class="gl" points="429.2,187.9 427,193 423,197 422.5,201.2 424.4,206"/>
<polyline class="gl" points="406.8,187.9 412,189.5 418,188 424,186 429.2,187.9"/>
<polyline class="gl" points="376.8,183 379,186 382.5,189 385,191.2"/>
<polyline class="gl" points="357.5,172.5 362.5,171.2 370,170 373.8,168.8"/>
<polyline class="gl" points="370,170 367.5,176.2 362.5,180"/>
<polyline class="gl" points="362.5,180 370,186.2 377.5,190 385,191.2"/>
<polyline class="gl" points="356,178 357,183 357.5,186.2 363.8,185"/>
<polyline class="gl" points="362.5,161.2 370,160 373.8,162.5"/>
<polyline class="gl" points="366,158 370,157.5"/>
<polyline class="gl" points="374.7,221.8 380.6,220.6 385.3,220 390,218.8 394.1,218.2 399.4,215.3 401.8,210.6 400.6,205.9"/>
<polyline class="gl" points="394.1,218.2 395.3,223"/>
<polyline class="gl" points="400.6,205.9 397,206 393.6,205"/>
<polyline class="gl" points="357,190.6 365.3,187 373.6,188.2 379.4,190.6 383,191.2"/>
<polyline class="gl" points="371.1,144.2 373,141.8 376.8,140.5 381.8,140.5 385.5,142.4 390.5,141.8 395.5,140.5 394.2,136.8 396.8,134.9 401.8,133.6 406.8,132.4 411.8,134.2 418,134.9 423,135.5 426.8,138 430.5,140.5 435.5,143 440.5,145.5 443,146.8"/>
<polyline class="gl" points="371.1,144.2 370.5,148 374.2,150.5 375.5,153"/>
<polyline class="gl" points="385.5,154.2 390.5,154.9 395.5,155.5 400.5,157.4 405.5,159.2 410.5,160.5 415.5,161.8 420.5,161.1 426.8,160.5 433,161.1 438,161.8"/>
<polyline class="gl" points="390.5,154.9 391.1,160.5 396.8,161.8 403,165.5 408,169.2 411.8,173 415.5,174.2"/>
<polyline class="gl" points="386.8,170.5 391.8,171.8 398,173 404.2,175.5 408,178"/>
<polyline class="gl" points="415.5,165.5 420.5,164.2 426.8,164.2 430.5,165.5"/>
<polyline class="gl" points="420.5,168 423,170.5 426.8,169.2 430.5,168"/>
<polyline class="gl" points="408,178 409.2,183 406.8,187.9"/>
<polyline class="gl" points="415.5,176.8 421.8,175.5 426.8,173 430.5,171.8"/>
<polyline class="gl" points="368,165.5 374.2,169.2 378,173 375.5,178 376.8,183"/>
<polyline class="gl" points="428,175.5 426.8,181.8 429.2,187.9"/>
<polyline class="gl" points="446.6,147.2 452,144.5 460,142.8 468,142.5 476,143.7 485,144.7 492.6,143.7 500.1,141.8 501,137.8"/>
<polyline class="gl" points="410,132.5 417.5,135.3 425,134.3 432.5,138.1 440,141.8 446.6,147.2"/>
<polyline class="gl" points="440.4,177.7 443,183 447.4,188.3 452.7,191 458,192.7 463.3,194.5"/>
<polyline class="gl" points="452.7,191 453,195 458,196.5 463.3,197 466,195"/>
<polyline class="gl" points="466,195 468.6,195.4 475.7,196.2 481,195.4"/>
<polyline class="gl" points="466,198 470,198 474,199 475,203 473,207 470,206 468.6,210.4"/>
<polyline class="gl" points="474,199 478,200 481,202 479,206 476,208 474,209.5"/>
<polyline class="gl" points="481,195.4 484.6,196.2 486.3,200.7"/>
<polyline class="gl" points="488.6,216.8 489.8,220.3 488.6,223.9 489.8,228.6 491,232.1"/>
<polyline class="gl" points="494.5,213.3 495.7,216.8 488.6,216.8 486,213 484,210"/>
<polyline class="gl" points="495.7,216.8 499.2,220.3 502.8,222.7 504,226.2 501.6,229.8 505.1,230.4"/>
<polyline class="gl" points="500.4,215.6 505.1,219.2 508.7,225.1 509.9,228.6"/>
<polyline class="gl" points="500.4,231 505.1,229.8 509.9,231 509.3,234.5 506.3,236.9 503.4,237.4"/>
<polyline class="gl" points="495.7,249.8 499.2,250.4"/>
<polyline class="gl" points="480.4,212.1 482.7,216.8 481.5,221.5"/>
<polyline class="gl" points="276.2,148.1 280,146.9"/>
<polyline class="gl" points="282.5,160.6 287.5,161.2"/>
<polyline class="gl" points="310,155 313,154 316,154.5 320,152 324,153"/>
<polyline class="gl" points="316,154.5 318,158 321,160"/>
<polyline class="gl" points="320,152 322,156 324,158 327,160 330,160 333,158.5 337,158"/>
<polyline class="gl" points="326.3,150 330,151 333,150.5 337.4,150.3"/>
<polyline class="gl" points="324,153 326,157 326,161 325,164"/>
<polyline class="gl" points="321,160 324,162 325,164 322,165"/>
<polyline class="gl" points="330,160 331,163 332.5,165.5"/>
<polyline class="gl" points="335.7,148.6 337,152 338.5,155"/>
<polyline class="gl" points="163.5,260.3 164,253 163,247"/>
<polyline class="gl" points="170.4,259.4 169.5,253 170,250"/>
<polyline class="bl" points="338,306.6 340.8,312.1 344.9,316.3"/>
<polyline class="bl" points="327.7,327.3 332.5,324.5 338,323.1 342.1,319 344.9,316.3 349,316.3"/>
<polyline class="bl" points="349,316.3 353.1,310.8 353.8,303.9 351.8,301.8"/>
<polyline class="bl" points="349,316.3 350.4,321.8 349,325.9 350.4,328.6"/>
<polyline class="bl" points="355.9,290.1 357.3,297 358.6,302.5 357.3,304.6 355.9,299.1"/>
<polyline class="bl" points="347.8,326.5 349.5,325.6 350.4,327.5 349,329.2 347.7,328.3"/>
<polyline class="bl" points="144.5,321 144.2,330 144.2,340 144.7,347.1 145.3,354.2 146.5,361.2 148.3,368.3 149.5,374.2 150.6,380.1 151.8,384.8 153.6,388.3"/>
<polygon class="b" points="173.5,386 176,385.3 179.3,385.8 178.5,387.6 175,387.8"/>
<polyline class="bl" points="132.5,234.5 133.4,242.2 137.7,247.4 142,250.8 142,259.4 139.4,262"/>
<polyline class="bl" points="142,259.4 148,257.7 151.5,254.3 156.6,252.5"/>
<polyline class="bl" points="139.4,262 136.8,266.3 136.5,270"/>
<polyline class="bl" points="118.8,261.1 123.9,264.6 127,265.3"/>
<polyline class="bl" points="168.9,336 170.5,332 172.9,330.2 175.5,332 177.8,336"/>
<polyline class="bl" points="172.9,326.3 173.5,329 172.9,330.2"/>
<polyline class="bl" points="320.5,100.3 317,103.5 313,106 309,108.5 306,111 304.5,113.5 304,117 304.3,121.5"/>
<polyline class="bl" points="321,100.2 322.5,104 322,108.5 321.4,109.5"/>
<polyline class="bl" points="303,144.5 306,143 310.8,143.5"/>
<polyline class="bl" points="305.5,146.5 309,147 312,146.5"/>
<polyline class="bl" points="302,147.2 305.5,146.5"/>
<polyline class="bl" points="296,148.5 300,148 302,149.5 300,150.8 297.5,150.3"/>
<polyline class="bl" points="312,146.5 313,149.5 313.5,153.8"/>
<polyline class="bl" points="316,147 320,148 324,147.5 326.8,146"/>
<polyline class="bl" points="312,146.5 314,145 316,144.5"/>
<polyline class="bl" points="294.5,139 296.5,140.5 296,142.5 295,143.8"/>
<polyline class="bl" points="300,150.8 303,151 306,150.5 308.5,151.5 310,153.5"/>
<polyline class="bl" points="310,153.5 313,152.5 316.2,153.4"/>
<polyline class="bl" points="322.5,127.5 327,127.3 332.6,128.3"/>
<polyline class="bl" points="324.5,125 329,124.7 332.1,124.7"/>
<polyline class="bl" points="326.8,132.7 329,130.5 333.5,130.5"/>
<polyline class="bl" points="327.7,138 332,137.5 336,138 341,138"/>
<polyline class="bl" points="270.6,161 271,165 270.5,170 271,174"/>
<polygon class="b" points="609,274 612,275.3 611.6,276.4 608.6,275"/>
<polygon class="b" points="613,278 617,280 616.5,281 612.5,279"/>
<polygon class="b" points="617,283 621,285 620.5,286 616.5,284"/>
<polygon class="b" points="621,287 625,289 624.5,290 620.5,288"/>
<polygon class="b" points="633,290 634,290.5 634.3,293 633.2,292.5"/>
<polygon class="b" points="634.5,296 635.5,296.5 636,300 635,299.5"/>
<polygon class="b" points="635,303 636,303.5 637,308 636,307.5"/>
<polygon class="b" points="625,310 632,315.5 631.5,316.5 624.5,311"/>
<polygon class="b" points="152.8,221 153.6,221.3 153.4,222.2 152.6,222"/>
<polygon class="b" points="154.5,224.5 155.3,224.8 155.1,225.7 154.3,225.4"/>
<polygon class="b" points="155.8,228 156.6,228.3 156.4,229.2 155.6,228.9"/>
<polygon class="b" points="139,233.6 141.5,233.6 141.5,235 139,235"/>
<polyline class="gt" points="201.9,91.7 203,93 202,94.5 203.5,96 202.5,97.5 204,99 203,100.5 204.5,102 202.5,104 201.5,106 200.8,108 201.2,110 201,112 202.5,114.5 203.5,116.5 205.5,118.5 207.5,120.5"/>
<polyline class="gt" points="258.2,83.4 257,85.5 257.5,87 255.5,89 255.5,90.5 253.5,92.5 252,94 250.5,95.5 248,97 245.5,98.5 243,99.5"/>
<polyline class="gt" points="186,85.6 188,86.8 190,87.3"/>
<polygon class="od" points="222.9,168.1 224.1,168.1 224.1,168.9 222.9,168.9"/>
<polygon class="od" points="228.4,169.6 229.6,169.6 229.6,170.4 228.4,170.4"/>
<polygon class="od" points="229.9,169.9 231.1,169.9 231.1,170.7 229.9,170.7"/>
<polygon class="od" points="233.4,172.6 234.6,172.6 234.6,173.4 233.4,173.4"/>
<polygon class="od" points="247.4,194.6 248.6,194.6 248.6,195.4 247.4,195.4"/>
<polygon class="od" points="249.9,195.6 251.1,195.6 251.1,196.4 249.9,196.4"/>
<polygon class="od" points="251.9,195.9 253.1,195.9 253.1,196.7 251.9,196.7"/>
<polygon class="od" points="254.4,195.1 255.6,195.1 255.6,195.9 254.4,195.9"/>
<polygon class="od" points="256.4,193.8 257.6,193.8 257.6,194.6 256.4,194.6"/>
<polygon class="od" points="231.4,222.6 232.6,222.6 232.6,223.4 231.4,223.4"/>
<polygon class="od" points="233.4,223.6 234.6,223.6 234.6,224.4 233.4,224.4"/>
<polygon class="od" points="235.9,225.1 237.1,225.1 237.1,225.9 235.9,225.9"/>
<polygon class="od" points="232.4,226.6 233.6,226.6 233.6,227.4 232.4,227.4"/>
<polygon class="od" points="234.4,227.1 235.6,227.1 235.6,227.9 234.4,227.9"/>
</svg>
<div class="t lg" style="left:345px;top:375px;"><b>COUNTRIES</b> WHERE MORE ...</div>
<div class="t lg" style="left:345px;top:390px;">ARE AFFILIATED</div>
<div class="t lg" style="left:350px;top:407px;">... Women&nbsp;&nbsp;... Men: <b>0</b></div>
<div class="tick" style="left:375px;top:419px;height:6px;"></div>
<div id="bar"><div class="wv"></div></div>
<div class="bnum" style="left:368px;top:427.5px;">61</div>
<div class="bnum" style="left:466.5px;top:427.5px;">131</div>
<div class="tick" style="left:477px;top:442px;height:6px;"></div>
<div class="t lg" style="left:468px;top:451px;font-size:11.6px;">Difference less than</div>
<div class="t lg" style="left:468px;top:466px;font-size:11.6px;">2 percentage points</div>
<div id="nd"></div>
<div class="t lg" style="left:579px;top:431px;">No data</div>
<div class="t note" style="top:422px;">Note: Figures are for the population ages 20 and over in 2010.</div>
<div class="t note" style="top:437px;transform:scaleX(0.975);transform-origin:0 0;">Pew Research Center estimates based on census and survey</div>
<div class="t note" style="top:452px;transform:scaleX(0.99);transform-origin:0 0;">sources used in &ldquo;The Future of World Religions&rdquo; report.</div>
<div class="t" id="pew">PEW RESEARCH CENTER</div>
<div id="botline"></div>
</body></html>
